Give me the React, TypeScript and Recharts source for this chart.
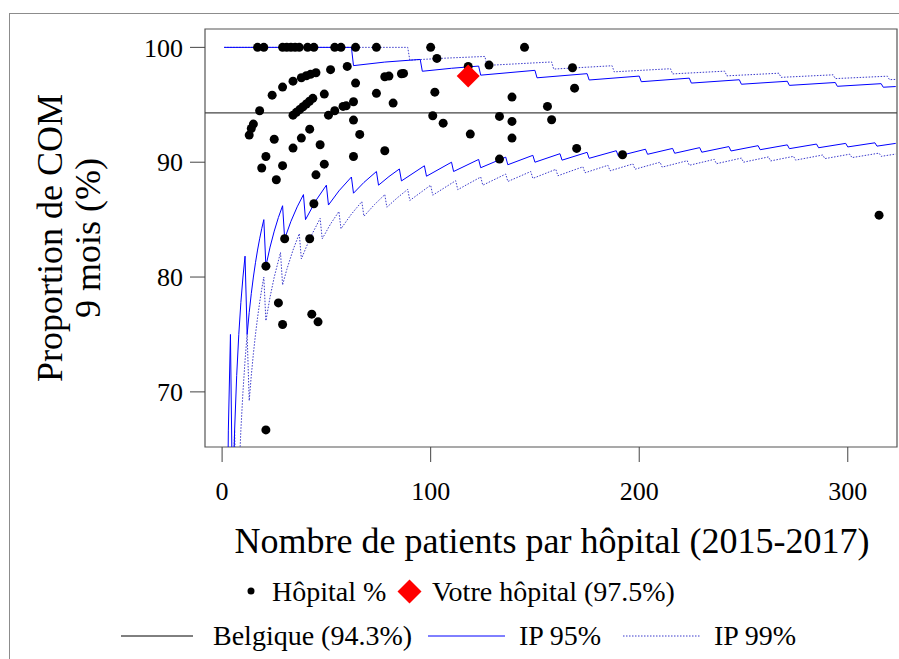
import React from "react";
import {
  ComposedChart,
  Line,
  Scatter,
  XAxis,
  YAxis,
  ReferenceLine,
  ReferenceArea,
} from "recharts";

const FONT = '"Liberation Serif", "Times New Roman", serif';

// hospitals: number of patients (2015-2017) and % COM at 9 months
const hospN = [
  17, 20, 29, 31, 33, 35, 37, 41, 44, 54, 57, 64, 74, 100, 145,
  52, 60, 45, 42.4, 40.4, 38, 34, 29, 24, 18, 15, 14, 13, 25, 21, 19, 26, 29,
  34, 38, 42, 47, 49, 45,
  34, 35.6, 37.2, 38.8, 40.4, 41.9, 43.5,
  49, 51, 54, 58, 59.5, 63, 64, 63, 66, 63, 74, 78, 80, 86, 87, 82, 78,
  44, 30, 42, 21, 27, 29, 43, 46, 21,
  103, 118, 128, 168, 102, 139, 169, 156, 101, 106, 133, 139, 158, 119, 139,
  170, 133, 192, 315,
];
const hospPct = [
  100, 100, 100, 100, 100, 100, 100, 100, 100, 100, 100, 100, 100, 100, 100,
  98.06, 98.34, 97.79, 97.65, 97.53, 97.35, 97.06, 96.54, 95.84, 94.48, 93.32,
  92.94, 92.36, 92.0, 90.5, 89.5, 88.47, 89.7,
  91.23, 92.1, 92.88, 91.52, 89.83, 88.9,
  94.1, 94.34, 94.58, 94.83, 95.07, 95.31, 95.56,
  95.93, 94.1, 94.48, 94.86, 94.91, 95.26, 96.89, 93.67, 92.42, 90.5, 96.0,
  97.44, 97.5, 97.7, 97.73, 95.15, 91.0,
  86.38, 83.33, 83.33, 80.95, 77.75, 75.87, 76.77, 76.1, 66.69,
  99.04, 98.34, 98.46, 98.23, 96.1, 95.67, 96.45, 94.86, 94.05, 93.4, 93.99,
  93.55, 93.7, 92.45, 92.1, 91.2, 90.27, 90.65, 85.39,
];
const yourN = 118;
const yourPct = 97.5;
const belgiquePct = 94.3;

// prediction limits, [patients, %] at the corners of each step
const up95: [number, number][] = [
  [1, 100], [62, 100], [63, 98.41], [78, 98.72], [95, 98.95], [96, 97.92],
  [110, 98.18], [123, 98.37], [124, 97.58], [150, 98.0], [151, 97.35],
  [175, 97.71], [176, 97.16], [200, 97.5], [201, 97.01], [224, 97.32],
  [225, 96.89], [248, 97.18], [249, 96.79], [271, 97.05], [272, 96.69],
  [294, 96.94], [295, 96.61], [316, 96.84], [317, 96.53], [323, 96.59],
];
const up99: [number, number][] = [
  [1, 100], [89, 100], [90, 98.89], [108, 99.07], [126, 99.21], [127, 98.43],
  [158, 98.73], [159, 98.11], [187, 98.4], [188, 97.87], [215, 98.14],
  [216, 97.69], [241, 97.93], [242, 97.52], [267, 97.75], [268, 97.39],
  [293, 97.61], [294, 97.28], [319, 97.49], [320, 97.19], [323, 97.21],
];
const low95: [number, number][] = [
  [2, 50], [3, 66.67], [4, 75], [5, 60], [6, 66.67], [7, 71.43], [8, 75],
  [9, 77.78], [10, 80], [11, 81.82], [12, 75], [13, 76.92], [14, 78.57],
  [15, 80], [16, 81.25], [17, 82.35], [18, 83.33], [19, 84.21], [20, 85],
  [21, 80.95], [23, 82.61], [25, 84.0], [27, 85.19], [29, 86.21], [30, 83.33],
  [33, 84.85], [36, 86.11], [39, 87.18], [40, 85.0], [45, 86.67], [50, 88.0],
  [51, 86.27], [56, 87.5], [62, 88.71], [63, 87.3], [68, 88.24], [74, 89.19],
  [75, 88.0], [80, 88.75], [85, 89.41], [86, 88.37], [97, 89.69], [98, 88.78],
  [110, 90.0], [111, 89.19], [123, 90.24], [124, 89.52], [136, 90.44],
  [137, 89.78], [149, 90.6], [150, 90.0], [162, 90.74], [163, 90.18],
  [175, 90.86], [176, 90.34], [189, 91.0], [190, 90.53], [203, 91.13],
  [204, 90.69], [216, 91.2], [217, 90.78], [229, 91.27], [230, 90.87],
  [243, 91.36], [244, 90.98], [257, 91.44], [258, 91.09], [271, 91.51],
  [272, 91.18], [285, 91.58], [286, 91.26], [299, 91.64], [300, 91.33],
  [313, 91.69], [314, 91.4], [323, 91.64],
];
const low99: [number, number][] = [
  [5, 60], [6, 66.67], [7, 57.14], [8, 62.5], [9, 66.67], [10, 70],
  [11, 72.73], [12, 75], [13, 69.23], [14, 71.43], [15, 73.33], [16, 75],
  [17, 76.47], [18, 77.78], [19, 78.95], [20, 80], [21, 76.19], [23, 78.26],
  [25, 80], [28, 82.14], [29, 79.31], [31, 80.65], [34, 82.35], [37, 83.78],
  [38, 81.58], [42, 83.33], [47, 85.11], [48, 83.33], [52, 84.62], [56, 85.71],
  [57, 84.21], [62, 85.48], [67, 86.57], [68, 85.29], [73, 86.3], [78, 87.18],
  [79, 86.08], [84, 86.9], [89, 87.64], [90, 86.67], [100, 88.0], [101, 87.13],
  [112, 88.39], [113, 87.61], [124, 88.71], [125, 88.0], [136, 88.97],
  [137, 88.32], [148, 89.19], [149, 88.59], [160, 89.38], [161, 88.82],
  [173, 89.6], [174, 89.08], [185, 89.73], [186, 89.25], [197, 89.85],
  [198, 89.39], [210, 90.0], [211, 89.57], [223, 90.13], [224, 89.73],
  [236, 90.25], [237, 89.87], [249, 90.36], [250, 90.0], [262, 90.46],
  [263, 90.11], [274, 90.51], [275, 90.18], [288, 90.63], [289, 90.31],
  [301, 90.7], [302, 90.4], [315, 90.79], [316, 90.51], [323, 90.71],
];

const xTicks = [0, 100, 200, 300];
const yTicks = [70, 80, 90, 100];

const X_DOMAIN: [number, number] = [-8.2, 323.6];
const Y_DOMAIN: [number, number] = [65.2, 101.6];

const BLUE = "#0000ff";
const BLUE_DOT = "#3a3acc";

const pts = (a: [number, number][]) => a.map(([n, v]) => ({ n, v }));
const hospitals = hospN.map((n, i) => ({ n, v: hospPct[i] }));

const Dot = (p: any) => <circle cx={p.cx} cy={p.cy} r={4.5} fill="#000" />;
const Diamond = (p: any) => {
  const s = 11.5;
  return (
    <polygon
      points={`${p.cx},${p.cy - s} ${p.cx + s},${p.cy} ${p.cx},${p.cy + s} ${p.cx - s},${p.cy}`}
      fill="#ff0000"
    />
  );
};

export default function App() {
  const tick = { fill: "#000", fontSize: 26, fontFamily: FONT };
  return (
    <div style={{ position: "absolute", left: 0, top: 0, width: 899, height: 659, background: "#fff" }}>
      <div
        style={{
          position: "absolute",
          left: 9,
          top: 13,
          width: 900,
          height: 660,
          borderLeft: "1px solid #8c8c8c",
          borderTop: "1px solid #8c8c8c",
        }}
      />
      <ComposedChart
        width={899}
        height={659}
        margin={{ top: 29, right: 2, bottom: 112, left: 0 }}
        style={{ position: "absolute", left: 0, top: 0 }}
      >
        <XAxis
          type="number"
          dataKey="n"
          domain={X_DOMAIN}
          allowDataOverflow
          ticks={xTicks}
          height={100}
          tickSize={15}
          tickMargin={20}
          tick={tick}
          stroke="#444"
          axisLine={false}
          tickLine={{ stroke: "#444" }}
        />
        <YAxis
          type="number"
          dataKey="v"
          domain={Y_DOMAIN}
          allowDataOverflow
          ticks={yTicks}
          width={205}
          tickSize={15}
          tickMargin={7}
          tick={tick}
          axisLine={false}
          tickLine={{ stroke: "#444" }}
        />
        <ReferenceArea
          x1={X_DOMAIN[0]}
          x2={X_DOMAIN[1]}
          y1={Y_DOMAIN[0]}
          y2={Y_DOMAIN[1]}
          fill="none"
          stroke="#555"
          strokeWidth={1.2}
        />
        <ReferenceLine y={belgiquePct} stroke="#444" strokeWidth={1.2} />
        <Line data={pts(up99)} dataKey="v" type="linear" stroke={BLUE_DOT} strokeDasharray="1.5 1.5" strokeWidth={1} dot={false} activeDot={false} isAnimationActive={false} />
        <Line data={pts(low99)} dataKey="v" type="linear" stroke={BLUE_DOT} strokeDasharray="1.5 1.5" strokeWidth={1} dot={false} activeDot={false} isAnimationActive={false} />
        <Line data={pts(up95)} dataKey="v" type="linear" stroke={BLUE} strokeWidth={1} dot={false} activeDot={false} isAnimationActive={false} />
        <Line data={pts(low95)} dataKey="v" type="linear" stroke={BLUE} strokeWidth={1} dot={false} activeDot={false} isAnimationActive={false} />
        <Scatter data={hospitals} dataKey="v" shape={Dot} isAnimationActive={false} />
        <Scatter data={[{ n: yourN, v: yourPct }]} dataKey="v" shape={Diamond} isAnimationActive={false} />
      </ComposedChart>
      <svg
        width={899}
        height={659}
        style={{ position: "absolute", left: 0, top: 0, pointerEvents: "none" }}
        fontFamily={FONT}
      >
        <text x={552} y={553} textAnchor="middle" fontSize={36}>
          Nombre de patients par hôpital (2015-2017)
        </text>
        <g transform="translate(0,238) rotate(-90)">
          <text x={0} y={62} textAnchor="middle" fontSize={36}>
            Proportion de COM
          </text>
          <text x={0} y={100} textAnchor="middle" fontSize={36}>
            9 mois (%)
          </text>
        </g>
        {/* legend */}
        <g fontSize={28}>
          <circle cx={251} cy={591} r={3.5} fill="#000" />
          <text x={272} y={601}>Hôpital %</text>
          <polygon points="409.5,579.5 421.5,591.5 409.5,603.5 397.5,591.5" fill="#ff0000" />
          <text x={432} y={601}>Votre hôpital (97.5%)</text>
          <line x1={121} x2={193} y1={636} y2={636} stroke="#000" strokeWidth={1} />
          <text x={213} y={645}>Belgique (94.3%)</text>
          <line x1={428} x2={505} y1={636} y2={636} stroke={BLUE} strokeWidth={1} />
          <text x={519} y={645}>IP 95%</text>
          <line x1={623} x2={700} y1={636} y2={636} stroke={BLUE_DOT} strokeWidth={1} strokeDasharray="1.5 1.5" />
          <text x={714} y={645}>IP 99%</text>
        </g>
      </svg>
    </div>
  );
}
